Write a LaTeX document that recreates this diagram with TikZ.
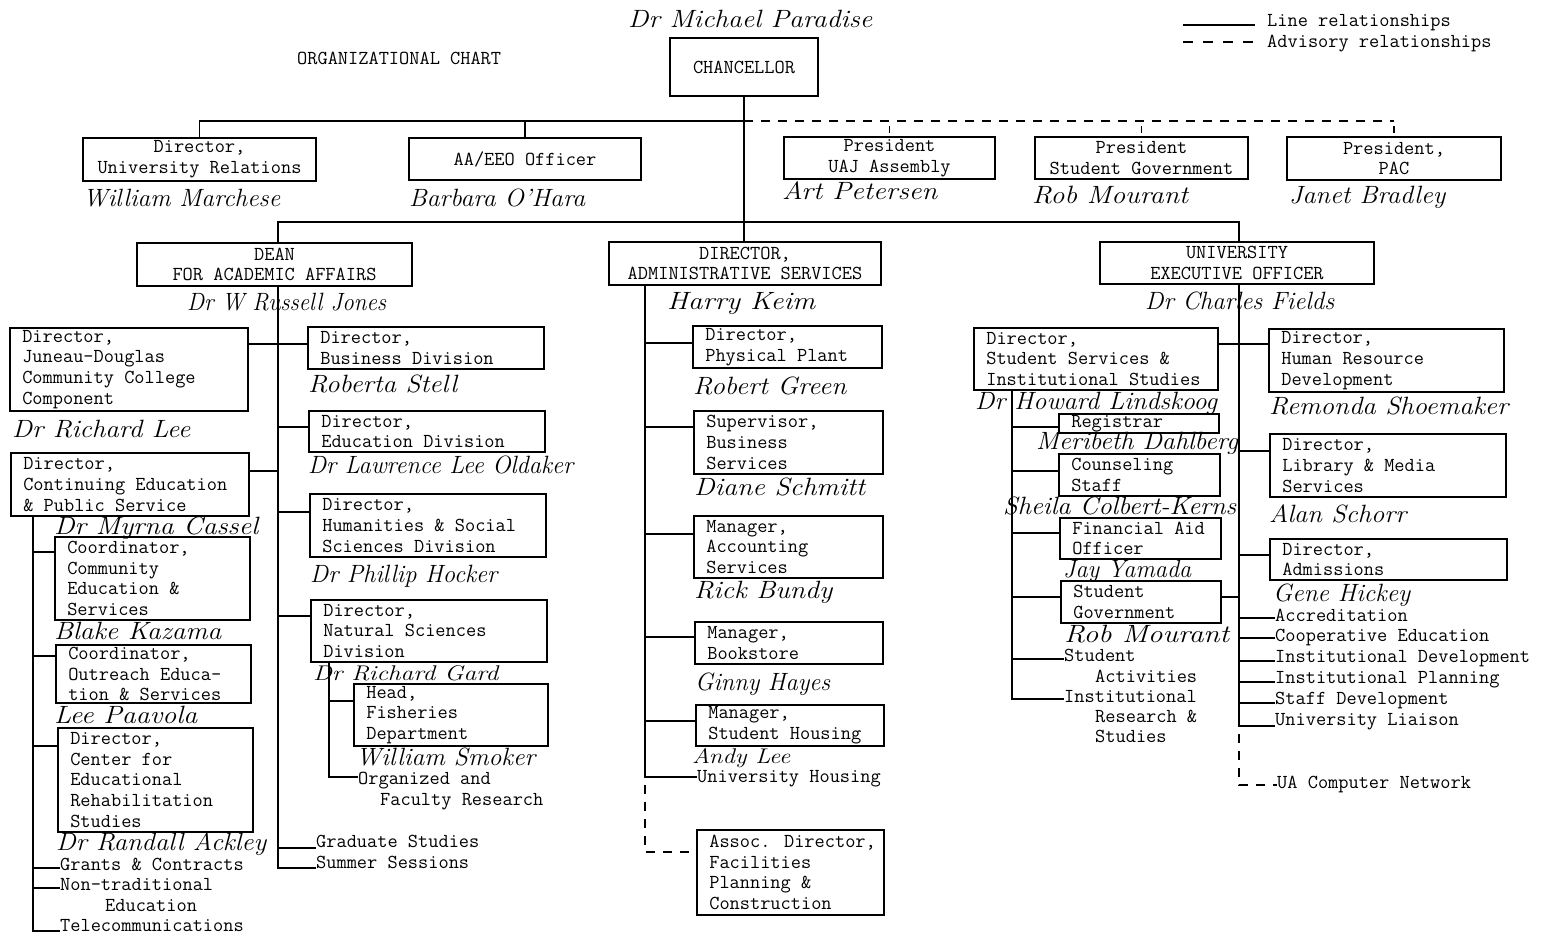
\documentclass[tikz,border=0pt]{standalone}
\usepackage{fontspec}
\usepackage{graphicx}
\newcommand\tyfont{\fontsize{19.8}{20.8}\selectfont\ttfamily\addfontfeatures{FakeBold=0.6}}
\newcommand\hwfont{\fontsize{25}{27}\selectfont\itshape\addfontfeatures{FakeBold=0.9}}
\tikzset{
  ln/.style={line width=1.8pt},
  adv/.style={line width=1.8pt, dash pattern=on 9pt off 8pt},
  bx/.style={draw, line width=1.8pt, inner sep=0pt},
  cbx/.style={bx, align=center, font=\tyfont},
  lt/.style={inner sep=0pt, align=left, font=\tyfont},
  tx/.style={inner sep=0pt, anchor=base west, font=\tyfont},
  nm/.style={inner sep=0pt, anchor=base west, font=\hwfont},
}
\newcommand\lbox[6]{%
  \node[bx, minimum width={#4-#2}, minimum height={#5-#3}] (#1) at ({(#2+#4)/2},{(#3+#5)/2}) {};
  \node[lt, anchor=west] (#1t) at ([xshift=13pt]#1.west) {#6};}
\newcommand\cbox[6]{%
  \node[cbx, minimum width={#4-#2}, minimum height={#5-#3}] (#1) at ({(#2+#4)/2},{(#3+#5)/2}) {#6};}
\newcommand\hn[5]{%
  \node[nm] (#1) at (#2,{#3+7}) {\resizebox{#4pt}{\height}{#5}};}
\newcommand\hnsmall[5]{%
  \node[nm] (#1) at (#2,{#3+6}) {\resizebox{#4pt}{0.85\height}{#5}};}
\begin{document}
\begin{tikzpicture}[x=1pt,y=-1pt]
\fill[white] (0,0) rectangle (1544,933);
\useasboundingbox (0,0) rectangle (1544,933);

% title and legend
\node[tx] (title) at (297,65) {ORGANIZATIONAL CHART};
\coordinate (l1a) at (1183,25); \coordinate (l1b) at (1255,25);
\coordinate (l2a) at (1183,42); \coordinate (l2b) at (1255,42);
\draw[ln] (l1a) -- (l1b);
\draw[line width=1.8pt, dash pattern=on 10pt off 10pt] (l2a) -- (l2b);
\node[tx] (legl) at (1267,27) {Line relationships};
\node[tx] (lega) at (1267,48) {Advisory relationships};

% top level
\cbox{chanc}{670}{38}{818}{96}{CHANCELLOR}
\cbox{dur}{83}{138}{316}{181}{Director,\\University Relations}
\cbox{aa}{409}{138}{641}{180}{AA/EEO Officer}
\cbox{pua}{784}{137}{995}{179}{President\\UAJ Assembly}
\cbox{psg}{1035}{137}{1248}{179}{President\\Student Government}
\cbox{ppac}{1287}{137}{1501}{180}{President,\\PAC}
\cbox{dean}{137}{243}{412}{286}{DEAN\\FOR ACADEMIC AFFAIRS}
\cbox{das}{609}{242}{881}{285}{DIRECTOR,\\ADMINISTRATIVE SERVICES}
\cbox{ueo}{1100}{242}{1374}{284}{UNIVERSITY\\EXECUTIVE OFFICER}

% dean column
\lbox{jd}{10}{328}{248}{411}{Director,\\Juneau-Douglas\\Community College\\Component}
\lbox{bd}{308}{327}{544}{369}{Director,\\Business Division}
\lbox{ed}{309}{411}{545}{452}{Director,\\Education Division}
\lbox{ce}{11}{453}{249}{516}{Director,\\Continuing Education\\\& Public Service}
\lbox{hum}{310}{494}{546}{557}{Director,\\Humanities \& Social\\Sciences Division}
\lbox{cce}{55}{537}{250}{620}{Coordinator,\\Community\\Education \&\\Services}
\lbox{ns}{311}{600}{547}{662}{Director,\\Natural Sciences\\Division}
\lbox{coe}{56}{645}{251}{703}{Coordinator,\\Outreach Educa-\\tion \& Services}
\lbox{fish}{354}{684}{548}{746}{Head,\\Fisheries\\Department}
\lbox{cer}{58}{728}{253}{832}{Director,\\Center for\\Educational\\Rehabilitation\\Studies}
\node[tx] (gc) at (60,870) {Grants \& Contracts};
\node[tx] (nt1) at (60,890) {Non-traditional};
\node[tx] (nt2) at (105,911) {Education};
\node[tx] (tel) at (60,931) {Telecommunications};
\node[tx] (oa1) at (358,784) {Organized and};
\node[tx] (oa2) at (380,805) {Faculty Research};
\node[tx] (gs) at (316,847) {Graduate Studies};
\node[tx] (ss) at (316,868) {Summer Sessions};

% admin column
\lbox{pp}{693}{326}{882}{368}{Director,\\Physical Plant}
\lbox{sbs}{694}{411}{883}{474}{Supervisor,\\Business\\Services}
\lbox{mas}{694}{516}{883}{578}{Manager,\\Accounting\\Services}
\lbox{mb}{695}{622}{883}{664}{Manager,\\Bookstore}
\lbox{msh}{696}{705}{884}{746}{Manager,\\Student Housing}
\lbox{adf}{697}{830}{884}{915}{Assoc. Director,\\Facilities\\Planning \&\\Construction}
\node[tx] (uh) at (697,782) {University Housing};

% executive column
\lbox{sss}{974}{328}{1218}{390}{Director,\\Student Services \&\\Institutional Studies}
\lbox{hrd}{1269}{329}{1504}{392}{Director,\\Human Resource\\Development}
\lbox{reg}{1059}{414}{1219}{433}{Registrar}
\lbox{cs}{1059}{454}{1220}{496}{Counseling\\Staff}
\lbox{fao}{1060}{518}{1221}{559}{Financial Aid\\Officer}
\lbox{sg}{1061}{581}{1221}{623}{Student\\Government}
\lbox{lib}{1270}{434}{1506}{497}{Director,\\Library \& Media\\Services}
\lbox{adm}{1270}{539}{1507}{580}{Director,\\Admissions}
\node[tx] (sa1) at (1064,661) {Student};
\node[tx] (sa2) at (1095,682) {Activities};
\node[tx] (ir1) at (1064,702) {Institutional};
\node[tx] (ir2) at (1095,722) {Research \&};
\node[tx] (ir3) at (1095,742) {Studies};
\node[tx] (acc) at (1275,621) {Accreditation};
\node[tx] (coop) at (1275,641) {Cooperative Education};
\node[tx] (idv) at (1275,662) {Institutional Development};
\node[tx] (ipl) at (1275,683) {Institutional Planning};
\node[tx] (sdv) at (1275,704) {Staff Development};
\node[tx] (ul) at (1275,725) {University Liaison};
\node[tx] (ucn) at (1277,788) {UA Computer Network};

% handwritten names
\hn{nmp}{628}{21}{244}{Dr Michael Paradise}
\hn{nwm}{83}{200}{197}{William Marchese}
\hn{nbo}{409}{200}{176}{Barbara O'Hara}
\hn{nap}{782}{193}{155}{Art Petersen}
\hn{nrm}{1032}{197}{156}{Rob Mourant}
\hn{njb}{1289}{197}{156}{Janet Bradley}
\hn{nrj}{187}{303}{199}{Dr W Russell Jones}
\hn{nhk}{667}{302}{148}{Harry Keim}
\hn{ncf}{1145}{302}{189}{Dr Charles Fields}
\hn{nrs}{308}{385}{149}{Roberta Stell}
\hn{nrl}{12}{430}{178}{Dr Richard Lee}
\hn{nlo}{308}{466}{265}{Dr Lawrence Lee Oldaker}
\hn{nmc}{54}{527}{204}{Dr Myrna Cassel}
\hn{nph}{310}{575}{187}{Dr Phillip Hocker}
\hn{nbk}{54}{632}{167}{Blake Kazama}
\hnsmall{nrg}{313}{674}{185}{Dr Richard Gard}
\hn{nlp}{54}{716}{143}{Lee Paavola}
\hn{nws}{356}{758}{179}{William Smoker}
\hn{nra}{56}{843}{210}{Dr Randall Ackley}
\hn{nrgr}{693}{387}{153}{Robert Green}
\hn{nds}{694}{488}{171}{Diane Schmitt}
\hn{nrb}{694}{591}{138}{Rick Bundy}
\hn{ngh}{695}{683}{135}{Ginny Hayes}
\hnsmall{nal}{692}{757}{98}{Andy Lee}
\hn{nhl}{975}{402}{242}{Dr Howard Lindskoog}
\hn{nrsh}{1269}{407}{239}{Remonda Shoemaker}
\hn{nmd}{1036}{442}{202}{Meribeth Dahlberg}
\hn{nsck}{1003}{507}{233}{Sheila Colbert-Kerns}
\hn{nas}{1269}{515}{137}{Alan Schorr}
\hn{njy}{1063}{570}{128}{Jay Yamada}
\hn{ngeh}{1273}{594}{137}{Gene Hickey}
\hn{nrm2}{1064}{635}{165}{Rob Mourant}

% spine coordinates
\coordinate (dsx) at (278,0);
\coordinate (nsx) at (329,0);
\coordinate (cex) at (33,0);
\coordinate (asx) at (645,0);
\coordinate (esx) at (1239,0);
\coordinate (ssx) at (1012,0);

% top connectors
\draw[ln] (dur.north) |- (chanc.south |- 0,121);
\draw[ln] (aa.north) -- (aa.north |- 0,121);
\draw[ln] (chanc.south) -- (chanc.south |- das.north);
\draw[adv] (chanc.south |- 0,121) -- (ppac.north |- 0,121);
\draw[ln] ([yshift=3pt]pua.north) -- ([yshift=10pt]pua.north);
\draw[ln] ([yshift=3pt]psg.north) -- ([yshift=10pt]psg.north);
\draw[ln] ([yshift=3pt]ppac.north) -- ([yshift=10pt]ppac.north);
\draw[ln] (dsx |- dean.north) -- (dsx |- 0,222) -- (esx |- 0,222) -- (esx |- ueo.north);

% dean connectors
\draw[ln] (dsx |- dean.south) -- (dsx |- 0,868) -- (ss.west |- 0,868);
\draw[ln] (dsx |- 0,848) -- (gs.west |- 0,848);
\draw[ln] (jd.east |- 0,344) -- (bd.west |- 0,344);
\draw[ln] (dsx |- 0,427) -- (ed.west |- 0,427);
\draw[ln] (ce.east |- 0,471) -- (dsx |- 0,471);
\draw[ln] (dsx |- 0,512) -- (hum.west |- 0,512);
\draw[ln] (dsx |- 0,616) -- (ns.west |- 0,616);
\draw[ln] (nsx |- ns.south) -- (nsx |- 0,777) -- (oa1.west |- 0,777);
\draw[ln] (nsx |- 0,701) -- (fish.west |- 0,701);
\draw[ln] (cex |- ce.south) -- (cex |- 0,931) -- (tel.west |- 0,931);
\draw[ln] (cex |- 0,552) -- (cce.west |- 0,552);
\draw[ln] (cex |- 0,656) -- (coe.west |- 0,656);
\draw[ln] (cex |- 0,746) -- (cer.west |- 0,746);
\draw[ln] (cex |- 0,868) -- (gc.west |- 0,868);
\draw[ln] (cex |- 0,888) -- (nt1.west |- 0,888);

% admin connectors
\draw[ln] (asx |- das.south) -- (asx |- 0,777) -- (uh.west |- 0,777);
\draw[ln] (asx |- 0,343) -- (pp.west |- 0,343);
\draw[ln] (asx |- 0,427) -- (sbs.west |- 0,427);
\draw[ln] (asx |- 0,534) -- (mas.west |- 0,534);
\draw[ln] (asx |- 0,637) -- (mb.west |- 0,637);
\draw[ln] (asx |- 0,721) -- (msh.west |- 0,721);
\draw[adv, dash phase=9pt] (asx |- 0,777) -- (asx |- 0,852) -- (adf.west |- 0,852);

% executive connectors
\draw[ln] (esx |- ueo.south) -- (esx |- 0,726) -- (ul.west |- 0,726);
\draw[ln] (sss.east |- 0,344) -- (hrd.west |- 0,344);
\draw[ln] (esx |- 0,451) -- (lib.west |- 0,451);
\draw[ln] (esx |- 0,555) -- (adm.west |- 0,555);
\draw[ln] (sg.east |- 0,597) -- (esx |- 0,597);
\draw[ln] (esx |- 0,618) -- (acc.west |- 0,618);
\draw[ln] (esx |- 0,638) -- (coop.west |- 0,638);
\draw[ln] (esx |- 0,661) -- (idv.west |- 0,661);
\draw[ln] (esx |- 0,682) -- (ipl.west |- 0,682);
\draw[ln] (esx |- 0,703) -- (sdv.west |- 0,703);
\draw[adv, dash phase=9pt] (esx |- 0,726) -- (esx |- 0,785) -- (ucn.west |- 0,785);
\draw[ln] (ssx |- sss.south) -- (ssx |- 0,699) -- (ir1.west |- 0,699);
\draw[ln] (ssx |- 0,427) -- (reg.west |- 0,427);
\draw[ln] (ssx |- 0,471) -- (cs.west |- 0,471);
\draw[ln] (ssx |- 0,533) -- (fao.west |- 0,533);
\draw[ln] (ssx |- 0,597) -- (sg.west |- 0,597);
\draw[ln] (ssx |- 0,659) -- (sa1.west |- 0,659);
\end{tikzpicture}
\end{document}
